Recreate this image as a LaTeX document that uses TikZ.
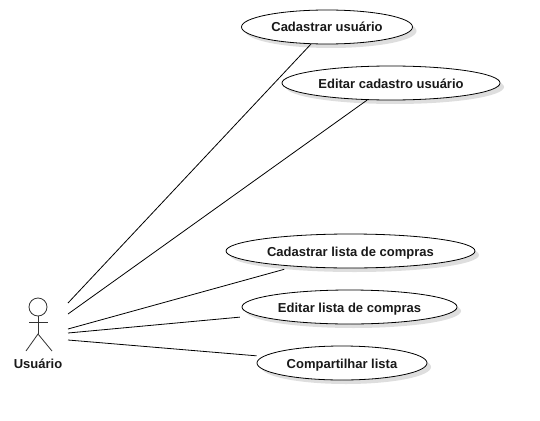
\documentclass[tikz,border=0pt]{standalone}
\usepackage{fontspec}
\setmainfont{Liberation Sans}
\usetikzlibrary{shapes.geometric,shadows}
\tikzset{
    labeltext/.style={font=\bfseries\fontsize{13}{15}\selectfont,text height=10pt,text depth=0pt},
    usecase/.style={ellipse,draw,fill=white,inner sep=0pt,minimum height=34,labeltext,line width=0.8pt,text=black!90,
        drop shadow={shadow xshift=4pt,shadow yshift=-4pt,opacity=0.13,fill=black}},
    limb/.style={line width=0.8pt,draw=black!80},
    assoc/.style={line width=0.8pt}
}
\begin{document}
\begin{tikzpicture}[x=1pt,y=-1pt]
        \useasboundingbox (0,0) rectangle (540,420);
        % casos de uso
        \node[usecase,minimum width=171] (cadUsuario) at(327,27){Cadastrar usuário};
        \node[usecase,minimum width=218] (editUsuario) at(391,83){Editar cadastro usuário};
        \node[usecase,minimum width=249] (cadLista) at(350.5,251){Cadastrar lista de compras};
        \node[usecase,minimum width=215] (editLista) at(349.5,307){Editar lista de compras};
        \node[usecase,minimum width=170] (compLista) at(342,363){Compartilhar lista};
        % ator
        \node[circle,limb,minimum size=18,inner sep=0pt] (head) at(38,307){};
        \coordinate (hip) at(38,334);
        \coordinate (armL) at(29,322.5);
        \coordinate (armR) at(48,322.5);
        \coordinate (footL) at(26,351);
        \coordinate (footR) at(52,351);
        \draw[limb] (head) -- (hip);
        \draw[limb] (armL) -- (armR);
        \draw[limb] (footL) -- (hip) -- (footR);
        \node[labeltext,text=black!90] (actor) at(38,363){Usuário};
        % associacoes
        \coordinate (a1) at(68,303);
        \coordinate (a2) at(68,314);
        \coordinate (a3) at(68,329);
        \coordinate (a4) at(68,333);
        \coordinate (a5) at(68,340);
        \draw[assoc] (a1) -- (cadUsuario);
        \draw[assoc] (a2) -- (editUsuario);
        \draw[assoc,shorten >=10.4] (a3) -- (cadLista);
        \draw[assoc,shorten >=16] (a4) -- (editLista);
        \draw[assoc,shorten >=6.5] (a5) -- (compLista);
    \end{tikzpicture}
\end{document}
